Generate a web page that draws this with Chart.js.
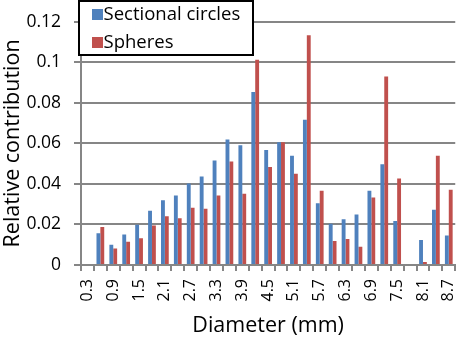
<!DOCTYPE html>
<html>
<head>
<meta charset="utf-8">
<script src="https://cdn.jsdelivr.net/npm/chart.js@4/dist/chart.umd.min.js"></script>
<style>
  html, body { margin: 0; padding: 0; background: #fff; }
  #wrap { width: 476px; height: 339px; position: relative; }
</style>
</head>
<body>
<div id="wrap"><canvas id="c" width="476" height="339"></canvas></div>
<script>
const categories = ["0.3","0.6","0.9","1.2","1.5","1.8","2.1","2.4","2.7","3.0","3.3","3.6","3.9","4.2","4.5","4.8","5.1","5.4","5.7","6.0","6.3","6.6","6.9","7.2","7.5","7.8","8.1","8.4","8.7"];
const sectionalCircles = [0, 0.0157, 0.0100, 0.0151, 0.0198, 0.0268, 0.0319, 0.0343, 0.0402, 0.0436, 0.0516, 0.0619, 0.0591, 0.0853, 0.0567, 0.0605, 0.0539, 0.0717, 0.0305, 0.0203, 0.0226, 0.0249, 0.0366, 0.0497, 0.0217, 0, 0.0123, 0.0273, 0.0146];
const spheres = [0, 0.0188, 0.0082, 0.0115, 0.0132, 0.0195, 0.0241, 0.0231, 0.0282, 0.0277, 0.0343, 0.0511, 0.0352, 0.1012, 0.0483, 0.0605, 0.0450, 0.1133, 0.0366, 0.0118, 0.0128, 0.0090, 0.0333, 0.0930, 0.0427, 0, 0.0015, 0.0539, 0.0371];
const yTicks = [0, 0.02, 0.04, 0.06, 0.08, 0.1, 0.12];
const seriesNames = ["Sectional circles", "Spheres"];

const FONT = "'Open Sans', sans-serif";
const GRID = "#868686";

const boxLegend = {
  id: 'boxLegend',
  afterDraw(chart) {
    const ctx = chart.ctx;
    const a = chart.chartArea;
    const x0 = a.left - 2, y0 = 1, w = 174, h = 54;
    ctx.save();
    ctx.fillStyle = '#fff';
    ctx.fillRect(x0, y0, w, h);
    ctx.strokeStyle = '#000';
    ctx.lineWidth = 2;
    ctx.strokeRect(x0, y0, w, h);
    ctx.font = "18.5px " + FONT;
    ctx.textBaseline = 'middle';
    ctx.textAlign = 'left';
    chart.data.datasets.forEach((ds, i) => {
      const cy = y0 + 14 + i * 28;
      ctx.fillStyle = ds.backgroundColor;
      ctx.fillRect(x0 + 13, cy - 6, 11, 11);
      ctx.fillStyle = '#000';
      ctx.fillText(ds.label, x0 + 24.5, cy);
    });
    ctx.restore();
  }
};

new Chart(document.getElementById('c'), {
  type: 'bar',
  data: {
    labels: categories,
    datasets: [
      { label: seriesNames[0], data: sectionalCircles, backgroundColor: '#4F81BD' },
      { label: seriesNames[1], data: spheres, backgroundColor: '#C0504D' }
    ]
  },
  options: {
    responsive: false,
    animation: false,
    layout: { padding: { top: 9, right: 1, left: 0, bottom: 0 } },
    datasets: { bar: { barPercentage: 1.0, categoryPercentage: 0.6 } },
    plugins: { legend: { display: false }, tooltip: { enabled: false } },
    scales: {
      x: {
        offset: true,
        grid: { display: true, drawOnChartArea: false, drawTicks: true, tickLength: 6, color: GRID, lineWidth: 2, offset: true },
        border: { display: true, color: GRID, width: 2 },
        ticks: {
          autoSkip: false, minRotation: 90, maxRotation: 90, padding: 8,
          color: '#000', font: { family: FONT, size: 16 },
          callback: function(v, i) { return i % 2 === 0 ? categories[i] : ''; }
        },
        title: { display: true, text: 'Diameter (mm)', color: '#000', font: { family: FONT, size: 21.5 }, padding: 0 },
        afterFit(s) { s.height = 74; }
      },
      y: {
        min: 0, max: 0.12,
        afterBuildTicks(s) { s.ticks = yTicks.map(v => ({ value: v })); },
        grid: { color: GRID, lineWidth: 2, tickLength: 7, drawTicks: true },
        border: { display: true, color: GRID, width: 2 },
        ticks: {
          padding: 13, color: '#000', font: { family: FONT, size: 17.5, lineHeight: 1 },
          callback: v => String(Math.round(v * 100) / 100)
        },
        title: { display: true, text: 'Relative contribution', color: '#000', font: { family: FONT, size: 21.5 }, padding: 0 },
        afterFit(s) { s.width = 81; }
      }
    }
  },
  plugins: [boxLegend]
});
</script>
</body>
</html>
